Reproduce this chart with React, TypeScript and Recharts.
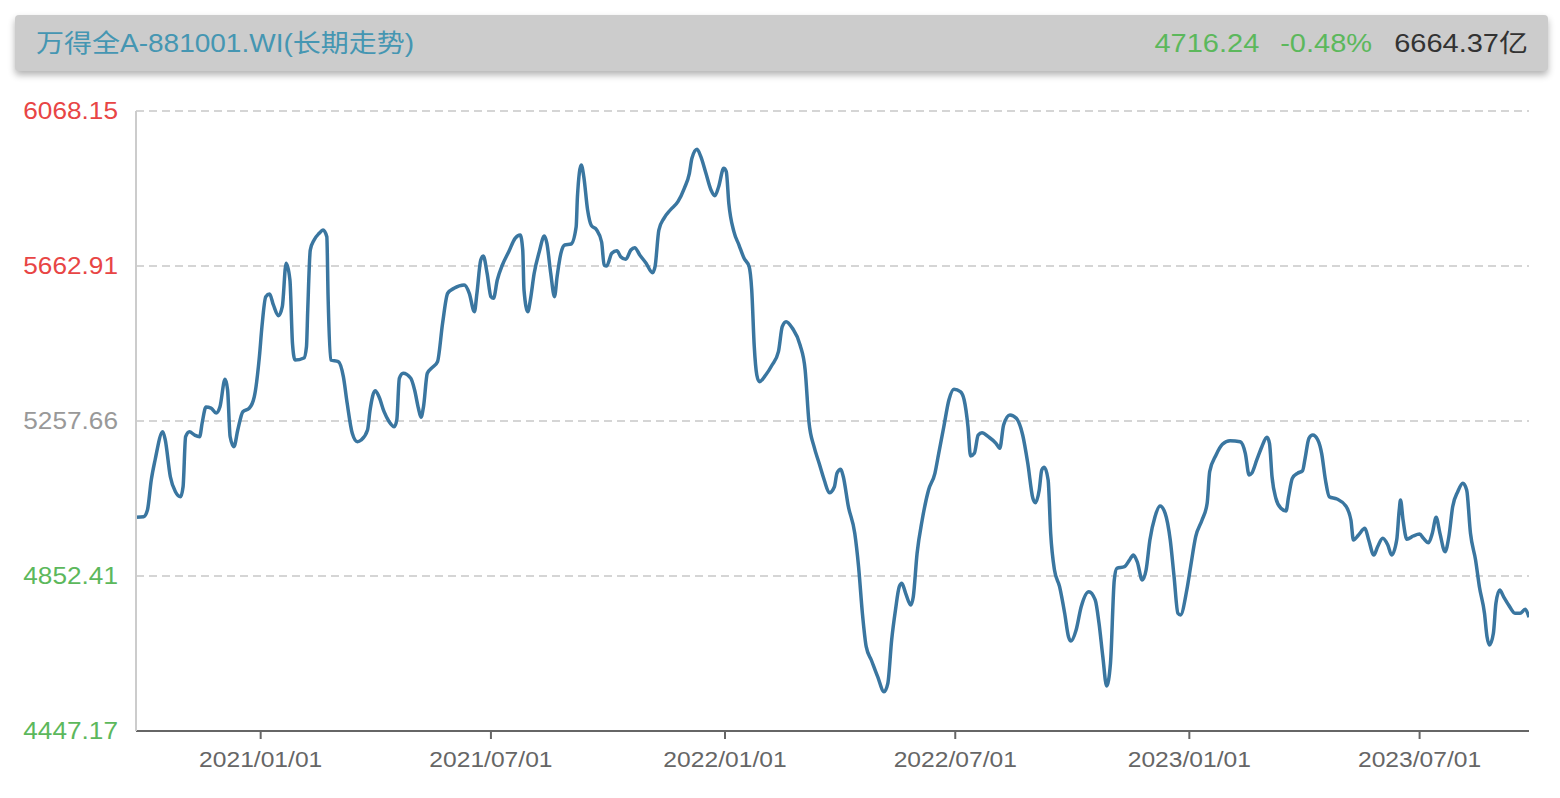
import React from 'react';
import { LineChart, Line, XAxis, YAxis, CartesianGrid } from 'recharts';

// day offsets counted from 2021/01/01, and the index close read for each of them
const BASE_DATE = Date.UTC(2021, 0, 1);
const DAY = 24 * 60 * 60 * 1000;

const dayOffsets = [
    -98, -92, -89, -86, -83, -77, -75, -71, -67, -63, -61, -59, -56, -52, -48, -46, -43, -39, -35, -32,
    -28, -26, -24, -21, -18, -14, -9, -5, -1, 1, 4, 7, 10, 14, 17, 20, 23, 25, 27, 34,
    36, 37, 39, 42, 46, 49, 52, 53, 55, 61, 65, 68, 72, 76, 79, 84, 86, 90, 93, 97,
    101, 105, 107, 109, 112, 118, 121, 124, 126, 128, 131, 135, 139, 143, 147, 152, 160, 164, 168, 170,
    173, 175, 178, 181, 183, 186, 190, 195, 200, 204, 206, 207, 210, 212, 215, 219, 223, 225, 228, 231,
    233, 236, 239, 244, 248, 249, 252, 254, 257, 260, 264, 268, 270, 272, 276, 280, 283, 287, 291, 294,
    298, 303, 308, 310, 313, 317, 322, 328, 333, 337, 339, 343, 346, 350, 354, 357, 360, 364, 366, 368,
    372, 376, 380, 384, 386, 388, 390, 392, 397, 402, 407, 410, 413, 418, 424, 428, 431, 435, 439, 443,
    447, 451, 453, 456, 458, 462, 467, 470, 473, 476, 480, 485, 490, 493, 496, 499, 502, 504, 507, 511,
    513, 516, 520, 525, 530, 533, 537, 541, 545, 550, 553, 556, 558, 561, 564, 567, 572, 578, 581, 584,
    589, 594, 599, 603, 607, 609, 612, 614, 616, 619, 621, 624, 628, 632, 635, 637, 641, 645, 651, 656,
    659, 662, 665, 668, 671, 673, 679, 683, 686, 689, 693, 696, 699, 703, 707, 711, 715, 718, 721, 723,
    728, 731, 735, 740, 744, 746, 751, 756, 762, 770, 774, 777, 779, 783, 787, 791, 793, 795, 798, 802,
    806, 808, 811, 815, 819, 821, 824, 827, 831, 834, 837, 840, 846, 853, 857, 859, 863, 868, 871, 875,
    878, 882, 886, 889, 893, 895, 896, 898, 901, 906, 911, 914, 918, 921, 924, 927, 931, 934, 937, 941,
    945, 948, 951, 955, 958, 962, 964, 966, 969, 971, 974, 977, 981, 986, 990, 994, 997,
];

const closeValues = [
    5006.0, 5007.4, 5025.0, 5103.4, 5155.7, 5229.7, 5208.0, 5112.0, 5072.8, 5059.8, 5085.9, 5216.6, 5229.7, 5221.0, 5216.6, 5252.4, 5294.3, 5291.6, 5278.6, 5295.0,
    5366.7, 5338.7, 5216.6, 5190.5, 5234.1, 5282.0, 5290.9, 5321.2, 5425.8, 5504.2, 5582.6, 5589.7, 5561.0, 5533.0, 5556.5, 5670.0, 5626.3, 5460.8, 5417.1, 5422.4,
    5451.9, 5547.9, 5704.7, 5730.9, 5748.4, 5757.0, 5739.5, 5582.6, 5417.1, 5412.7, 5373.5, 5304.0, 5225.5, 5203.5, 5208.0, 5234.1, 5286.4, 5336.9, 5321.2, 5282.0,
    5255.8, 5242.7, 5260.3, 5369.3, 5382.4, 5369.3, 5338.7, 5290.9, 5267.3, 5295.0, 5382.4, 5398.0, 5412.7, 5513.1, 5591.5, 5604.6, 5613.2, 5591.5, 5543.4, 5591.5,
    5678.6, 5689.0, 5643.8, 5582.6, 5578.5, 5626.3, 5665.5, 5700.3, 5735.3, 5744.0, 5704.7, 5600.2, 5543.4, 5574.0, 5643.8, 5700.3, 5741.3, 5722.2, 5643.8, 5582.6,
    5634.9, 5696.1, 5717.8, 5720.4, 5765.6, 5844.1, 5927.0, 5896.4, 5809.3, 5768.3, 5757.8, 5725.7, 5665.5, 5662.9, 5696.1, 5702.9, 5687.2, 5680.4, 5704.7, 5710.8,
    5691.7, 5670.0, 5645.4, 5661.1, 5757.0, 5787.6, 5809.3, 5831.0, 5866.0, 5905.3, 5944.5, 5968.0, 5948.7, 5905.3, 5861.6, 5846.7, 5870.2, 5918.3, 5909.5, 5826.8,
    5752.6, 5717.8, 5683.0, 5661.1, 5600.2, 5451.9, 5377.9, 5360.4, 5377.9, 5404.1, 5438.9, 5504.2, 5517.3, 5500.0, 5456.4, 5391.0, 5255.0, 5190.5, 5147.0, 5103.4,
    5070.2, 5085.9, 5120.9, 5131.4, 5112.0, 5033.6, 4964.0, 4876.7, 4754.9, 4667.6, 4632.8, 4589.1, 4549.9, 4571.9, 4685.1, 4763.5, 4824.4, 4833.3, 4807.2, 4776.6,
    4798.3, 4911.8, 4998.8, 5077.3, 5120.9, 5173.2, 5242.7, 5312.6, 5340.5, 5334.3, 5312.6, 5242.7, 5166.2, 5173.2, 5221.0, 5227.1, 5216.6, 5199.4, 5186.3, 5247.2,
    5273.4, 5264.7, 5221.0, 5147.0, 5055.6, 5044.0, 5077.3, 5129.6, 5136.6, 5103.4, 4964.0, 4868.1, 4824.4, 4754.9, 4693.7, 4682.5, 4711.2, 4772.2, 4811.4, 4789.7,
    4728.7, 4641.4, 4564.8, 4624.2, 4842.0, 4872.6, 4876.7, 4894.3, 4907.3, 4889.8, 4842.0, 4868.1, 4946.5, 5007.4, 5035.4, 5016.3, 4946.5, 4850.6, 4754.9, 4750.4,
    4815.8, 4876.7, 4955.2, 4998.8, 5042.5, 5125.1, 5168.8, 5196.7, 5206.2, 5203.5, 5173.2, 5116.5, 5120.9, 5155.7, 5190.5, 5215.0, 5199.4, 5112.0, 5055.6, 5029.4,
    5022.4, 5059.8, 5107.9, 5120.9, 5127.7, 5160.1, 5212.4, 5221.0, 5208.0, 5173.2, 5103.4, 5059.8, 5053.7, 5035.4, 4998.8, 4946.5, 4959.6, 4977.1, 4946.5, 4907.3,
    4929.0, 4951.0, 4933.4, 4907.3, 4946.5, 5025.0, 5051.1, 4998.8, 4948.4, 4957.0, 4962.2, 4951.0, 4939.5, 4964.0, 5005.9, 4964.0, 4915.9, 4955.2, 5033.6, 5072.8,
    5094.8, 5077.3, 4964.0, 4894.3, 4824.4, 4754.9, 4693.7, 4672.0, 4702.6, 4781.0, 4815.8, 4798.3, 4776.6, 4754.9, 4754.9, 4765.4, 4744.4,
];

const yTicks = [4447.17, 4852.41, 5257.66, 5662.91, 6068.15];
const yTickColors = ['#5cb85c', '#5cb85c', '#999999', '#e84545', '#e84545'];

const xTickDates = ['2021/01/01', '2021/07/01', '2022/01/01', '2022/07/01', '2023/01/01', '2023/07/01'];

const title = '万得全A-881001.WI(长期走势)';
const lastPrice = '4716.24';
const lastChange = '-0.48%';
const turnover = '6664.37亿';

const toTs = (s: string) => {
    const [y, m, d] = s.split('/').map(Number);
    return Date.UTC(y, m - 1, d);
};

const xTicks = xTickDates.map(toTs);
const startTs = Date.UTC(2020, 8, 25);
const endTs = Date.UTC(2023, 8, 25);

const chartData = dayOffsets.map((d, i) => ({ ts: BASE_DATE + d * DAY, value: closeValues[i] }));

const pad = (n: number) => (n < 10 ? '0' + n : '' + n);
const formatDate = (ts: number) => {
    const dt = new Date(ts);
    return `${dt.getUTCFullYear()}/${pad(dt.getUTCMonth() + 1)}/${pad(dt.getUTCDate())}`;
};

const FONT = '"Liberation Sans", Arial, "Noto Sans CJK SC", sans-serif';

const YTick = (props: any) => {
    const { x, y, payload } = props;
    const idx = yTicks.indexOf(payload.value);
    return (
        <text
            transform={`translate(${x},${y}) scale(1.14,1)`}
            textAnchor="end"
            dominantBaseline="central"
            fontSize={23}
            fontFamily={FONT}
            fill={yTickColors[idx] || '#999'}
        >
            {Number(payload.value).toFixed(2)}
        </text>
    );
};

const XTick = (props: any) => {
    const { x, y, payload } = props;
    return (
        <text
            transform={`translate(${x},${y}) scale(1.12,1)`}
            textAnchor="middle"
            dy="0.72em"
            fontSize={22}
            fontFamily={FONT}
            fill="#666666"
        >
            {formatDate(payload.value)}
        </text>
    );
};

export default function App() {
    return (
        <div style={{ position: 'absolute', left: 0, top: 0, width: 1560, height: 798, background: '#fff' }}>
            <LineChart
                width={1560}
                height={798}
                data={chartData}
                margin={{ top: 111, right: 31, bottom: 0, left: 0 }}
            >
                <CartesianGrid vertical={false} stroke="#c8c8c8" strokeDasharray="8 5" strokeWidth={1.5} />
                <XAxis
                    dataKey="ts"
                    type="number"
                    domain={[startTs, endTs]}
                    ticks={xTicks}
                    interval={0}
                    height={67}
                    tickSize={8}
                    tickMargin={12}
                    axisLine={{ stroke: '#666666', strokeWidth: 2 }}
                    tickLine={{ stroke: '#666666', strokeWidth: 2 }}
                    tick={<XTick />}
                    allowDataOverflow
                />
                <YAxis
                    type="number"
                    domain={[yTicks[0], yTicks[yTicks.length - 1]]}
                    ticks={yTicks}
                    interval={0}
                    width={136}
                    tickSize={0}
                    tickMargin={18}
                    tickLine={false}
                    axisLine={{ stroke: '#cccccc', strokeWidth: 2 }}
                    tick={<YTick />}
                    allowDataOverflow
                />
                <Line
                    type="monotone"
                    dataKey="value"
                    stroke="#3a76a0"
                    strokeWidth={3.5}
                    dot={false}
                    activeDot={false}
                    isAnimationActive={false}
                />
            </LineChart>

            {/* header bar */}
            <div
                style={{
                    position: 'absolute',
                    left: 15,
                    top: 15,
                    width: 1533,
                    height: 56,
                    background: '#cccccc',
                    borderRadius: 4,
                    boxShadow: '0 4px 7px rgba(0,0,0,0.3)',
                    fontFamily: FONT,
                }}
            >
                <div
                    style={{
                        position: 'absolute',
                        left: 21,
                        top: 0,
                        height: 56,
                        lineHeight: '56px',
                        fontSize: 25,
                        color: '#4596b2',
                        whiteSpace: 'nowrap',
                        transform: 'scaleX(1.12)',
                        transformOrigin: 'left center',
                    }}
                >
                    {title}
                </div>
                <div
                    style={{
                        position: 'absolute',
                        right: 20,
                        top: 0,
                        height: 56,
                        lineHeight: '56px',
                        fontSize: 25,
                        whiteSpace: 'nowrap',
                        transform: 'scaleX(1.16)',
                        transformOrigin: 'right center',
                    }}
                >
                    <span style={{ color: '#5cb85c' }}>{lastPrice}</span>
                    <span style={{ color: '#5cb85c', marginLeft: 18 }}>{lastChange}</span>
                    <span style={{ color: '#333333', marginLeft: 19 }}>{turnover}</span>
                </div>
            </div>
        </div>
    );
}
